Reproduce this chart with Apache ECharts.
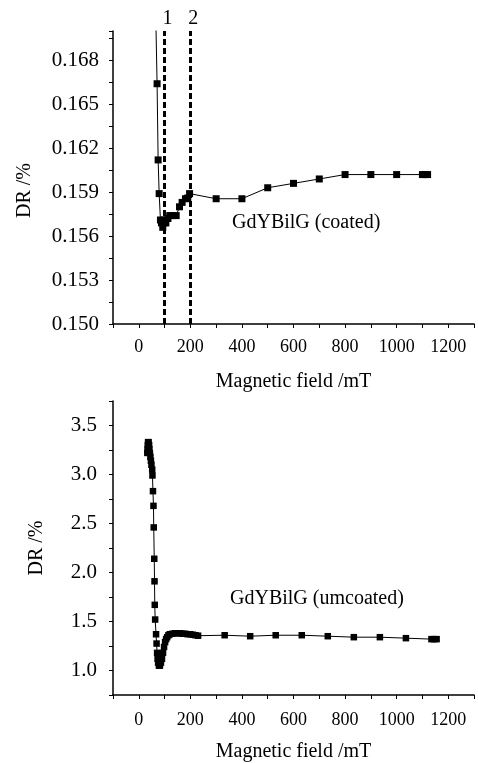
<!DOCTYPE html>
<html>
<head>
<meta charset="utf-8">
<script src="https://cdn.jsdelivr.net/npm/echarts@6/dist/echarts.min.js"></script>
<style>
  html, body { margin: 0; padding: 0; background: #fff; }
  #chart { width: 478px; height: 763px; }
</style>
</head>
<body>
<div id="chart"></div>
<script>
// coated sample (upper panel)
const coatedField = [62, 71, 75, 79, 84, 88, 93, 97, 100, 105, 113, 120, 130, 145, 158, 168, 181, 190, 197, 300, 400, 500, 600, 700, 800, 900, 1000, 1100, 1110, 1120];
const coatedDR = [0.1745, 0.1664, 0.1612, 0.1589, 0.1571, 0.1569, 0.1566, 0.1569, 0.1571, 0.1569, 0.1572, 0.1574, 0.1574, 0.1574, 0.1580, 0.1583, 0.15855, 0.1586, 0.1589, 0.15855, 0.15855, 0.1593, 0.1596, 0.1599, 0.1602, 0.1602, 0.1602, 0.1602, 0.1602, 0.1602];

// uncoated sample (lower panel)
const uncoatedField = [33, 34, 35, 36, 38, 40, 41, 43, 45, 47, 49, 52, 53, 55, 57, 58, 60, 61, 62, 63.5, 67, 69, 71, 73, 75, 78, 82, 86, 90, 94, 98, 102, 106, 110, 115, 120, 130, 140, 150, 160, 170, 180, 190, 200, 210, 220, 230, 333, 432, 531, 632, 733, 834, 935, 1036, 1135, 1145, 1155];
const uncoatedDR = [3.22, 3.26, 3.30, 3.33, 3.33, 3.30, 3.26, 3.22, 3.18, 3.14, 3.10, 3.05, 2.99, 2.83, 2.68, 2.46, 2.14, 1.91, 1.67, 1.52, 1.37, 1.275, 1.18, 1.12, 1.08, 1.05, 1.05, 1.08, 1.12, 1.18, 1.24, 1.29, 1.32, 1.34, 1.36, 1.37, 1.375, 1.38, 1.38, 1.38, 1.375, 1.375, 1.37, 1.37, 1.365, 1.36, 1.355, 1.36, 1.35, 1.36, 1.36, 1.35, 1.34, 1.34, 1.33, 1.32, 1.32, 1.32];

// dashed markers in upper panel
const markerFields = [100, 200];
const markerNames = ['1', '2'];

const xTickLabels = [0, 200, 400, 600, 800, 1000, 1200];
const coatedTicks = [0.150, 0.153, 0.156, 0.159, 0.162, 0.165, 0.168];
const uncoatedTicks = [1.0, 1.5, 2.0, 2.5, 3.0, 3.5];

const serif = 'Liberation Serif, DejaVu Serif, serif';
const black = '#000';

const zip = (a, b) => a.map((v, i) => [v, b[i]]);
const near = (v, list) => list.some(t => Math.abs(t - v) < 1e-7);

function xAxisOf(gridIndex, labelMargin, gap) {
  return {
    gridIndex,
    type: 'value',
    min: -100,
    max: 1300,
    interval: 100,
    name: 'Magnetic field /mT',
    nameLocation: 'middle',
    nameGap: gap,
    nameTextStyle: { color: black, fontSize: 20, fontFamily: serif },
    axisLine: { onZero: false, lineStyle: { color: black, width: 1.5 } },
    axisTick: { show: true, length: 4, lineStyle: { color: black, width: 1 } },
    splitLine: { show: false },
    axisLabel: {
      color: black, fontSize: 18, fontFamily: serif, margin: labelMargin,
      formatter: v => near(v, xTickLabels) ? String(v) : ''
    }
  };
}

const chart = echarts.init(document.getElementById('chart'));

chart.setOption({
  backgroundColor: '#fff',
  animation: false,
  grid: [
    { left: 113, right: 4, top: 31, bottom: 439 },
    { left: 113, right: 4, top: 401, bottom: 67 }
  ],
  xAxis: [xAxisOf(0, 14, 48), xAxisOf(1, 16, 47)],
  yAxis: [
    {
      gridIndex: 0,
      type: 'value',
      min: 0.150,
      max: 0.170,
      interval: 0.0015,
      name: 'DR /%',
      nameLocation: 'middle',
      nameGap: 78,
      nameTextStyle: { color: black, fontSize: 20, fontFamily: serif, padding: [0, 0, 0, -26] },
      axisLine: { show: true, onZero: false, lineStyle: { color: black, width: 1.5 } },
      axisTick: { show: true, length: 4, lineStyle: { color: black } },
      splitLine: { show: false },
      axisLabel: {
        color: black, fontSize: 21, fontFamily: serif, margin: 14,
        formatter: v => near(v, coatedTicks) ? v.toFixed(3) : ''
      }
    },
    {
      gridIndex: 1,
      type: 'value',
      min: 0.75,
      max: 3.75,
      interval: 0.25,
      name: 'DR /%',
      nameLocation: 'middle',
      nameGap: 66,
      nameTextStyle: { color: black, fontSize: 20, fontFamily: serif },
      axisLine: { show: true, onZero: false, lineStyle: { color: black, width: 1.5 } },
      axisTick: { show: true, length: 4, lineStyle: { color: black } },
      splitLine: { show: false },
      axisLabel: {
        color: black, fontSize: 21, fontFamily: serif, margin: 16,
        formatter: v => near(v, uncoatedTicks) ? v.toFixed(1) : ''
      }
    }
  ],
  graphic: [
    {
      type: 'text', left: 232, top: 213,
      style: { text: 'GdYBilG (coated)', fill: black, font: '20px ' + serif }
    },
    {
      type: 'text', left: 230, top: 589,
      style: { text: 'GdYBilG (umcoated)', fill: black, font: '20px ' + serif }
    }
  ],
  series: [
    {
      type: 'line',
      xAxisIndex: 0,
      yAxisIndex: 0,
      data: zip(coatedField, coatedDR),
      symbol: 'rect',
      symbolSize: 7,
      itemStyle: { color: black },
      lineStyle: { color: black, width: 1 },
      clip: true,
      markLine: {
        silent: true,
        symbol: 'none',
        lineStyle: { color: black, width: 3, type: [6, 3] },
        label: { show: true, position: 'end', color: black, fontSize: 20, fontFamily: serif, distance: 2, offset: [3, 0], formatter: p => p.name },
        data: markerFields.map((f, i) => ({ xAxis: f, name: markerNames[i] }))
      }
    },
    {
      type: 'line',
      xAxisIndex: 1,
      yAxisIndex: 1,
      data: zip(uncoatedField, uncoatedDR),
      symbol: 'rect',
      symbolSize: 6.5,
      itemStyle: { color: black },
      lineStyle: { color: black, width: 1 },
      clip: true
    }
  ]
});
</script>
</body>
</html>
